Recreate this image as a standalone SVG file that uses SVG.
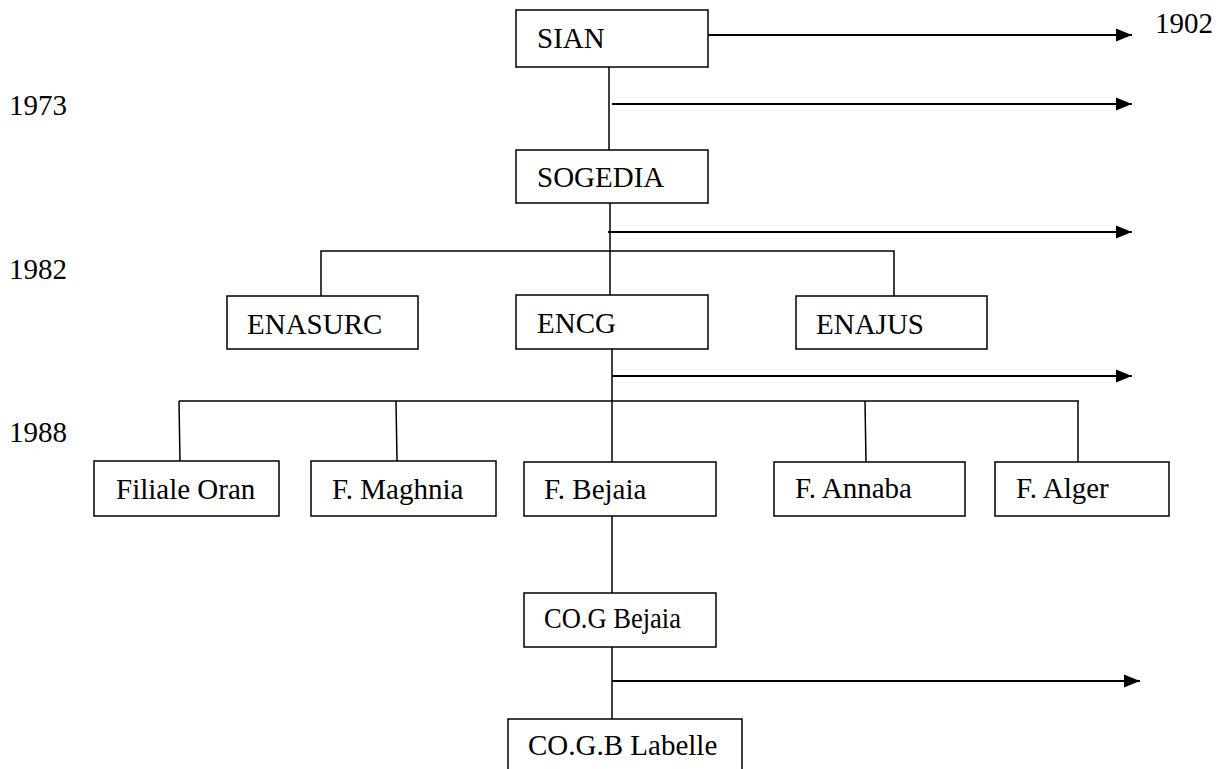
<svg xmlns="http://www.w3.org/2000/svg" width="1224" height="769" viewBox="0 0 1224 769">
<style>
.box{fill:#fff;stroke:#000;stroke-width:1.5}
.t{font-family:"Liberation Serif","Times New Roman",serif;font-size:29px;fill:#000}
.ln{stroke:#000;stroke-width:1.5;fill:none}
.ar{stroke:#000;stroke-width:2;fill:none;marker-end:url(#ah)}
</style>
<defs>
<marker id="ah" markerUnits="userSpaceOnUse" markerWidth="16" markerHeight="14" refX="16" refY="7" orient="auto">
<path d="M0,0.5 L16,7 L0,13.5 z" fill="#000"/>
</marker>
</defs>
<rect width="1224" height="769" fill="#fff"/>
<g id="years">
<text class="t" x="1155" y="33">1902</text>
<text class="t" x="9" y="115">1973</text>
<text class="t" x="9" y="279">1982</text>
<text class="t" x="9" y="442">1988</text>
</g>
<g id="connectors">
<line class="ar" x1="708" y1="35" x2="1132" y2="35"/>
<line class="ln" x1="609" y1="67" x2="609" y2="150"/>
<line class="ar" x1="612" y1="104" x2="1132" y2="104"/>
<line class="ln" x1="610" y1="203" x2="610" y2="295"/>
<line class="ar" x1="608" y1="232" x2="1132" y2="232"/>
<polyline class="ln" points="321,296 321,251 894,251 894,296"/>
<line class="ln" x1="612" y1="349" x2="612" y2="462"/>
<line class="ar" x1="612" y1="376" x2="1132" y2="376"/>
<line class="ln" x1="179" y1="401" x2="1079" y2="401"/>
<line class="ln" x1="179" y1="401" x2="180" y2="461"/>
<line class="ln" x1="396" y1="401" x2="397" y2="461"/>
<line class="ln" x1="865" y1="401" x2="866" y2="462"/>
<line class="ln" x1="1078" y1="401" x2="1078" y2="462"/>
<line class="ln" x1="612" y1="516" x2="612" y2="593"/>
<line class="ln" x1="612" y1="647" x2="612" y2="719"/>
<line class="ar" x1="612" y1="681" x2="1140" y2="681"/>
</g>
<g id="n-sian"><rect class="box" x="516" y="10" width="192" height="57"/><text class="t" x="537" y="48">SIAN</text></g>
<g id="n-sogedia"><rect class="box" x="516" y="150" width="192" height="53"/><text class="t" x="537" y="187">SOGEDIA</text></g>
<g id="n-enasurc"><rect class="box" x="227" y="296" width="191" height="53"/><text class="t" x="247" y="334">ENASURC</text></g>
<g id="n-encg"><rect class="box" x="516" y="295" width="192" height="54"/><text class="t" x="537" y="333">ENCG</text></g>
<g id="n-enajus"><rect class="box" x="796" y="296" width="191" height="53"/><text class="t" x="816" y="334">ENAJUS</text></g>
<g id="n-oran"><rect class="box" x="94" y="461" width="185" height="55"/><text class="t" x="116" y="499">Filiale Oran</text></g>
<g id="n-maghnia"><rect class="box" x="311" y="461" width="185" height="55"/><text class="t" x="332" y="499">F. Maghnia</text></g>
<g id="n-bejaia"><rect class="box" x="524" y="462" width="192" height="54"/><text class="t" x="544" y="499">F. Bejaia</text></g>
<g id="n-annaba"><rect class="box" x="774" y="462" width="191" height="54"/><text class="t" x="795" y="498">F. Annaba</text></g>
<g id="n-alger"><rect class="box" x="995" y="462" width="174" height="54"/><text class="t" x="1016" y="498">F. Alger</text></g>
<g id="n-cog-bejaia"><rect class="box" x="524" y="593" width="192" height="54"/><text class="t" x="544" y="628" textLength="137" lengthAdjust="spacingAndGlyphs">CO.G Bejaia</text></g>
<g id="n-cogb-labelle"><path class="ln" d="M508,769 L508,719 L742,719 L742,769"/><text class="t" x="528" y="755">CO.G.B Labelle</text></g>
</svg>
